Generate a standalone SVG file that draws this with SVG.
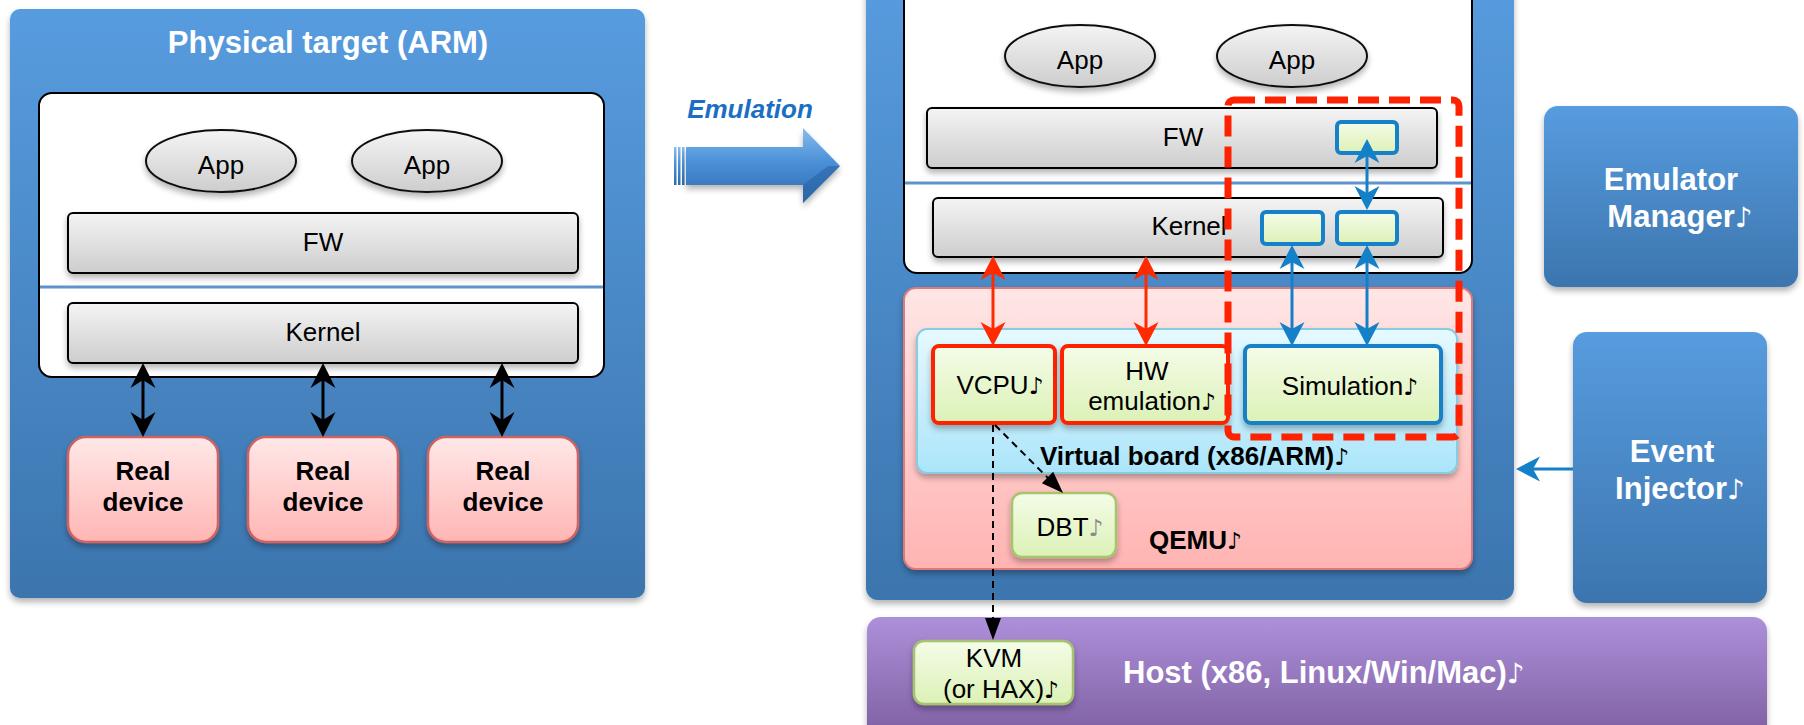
<svg xmlns="http://www.w3.org/2000/svg" width="1804" height="725" viewBox="0 0 1804 725">
<style>
text{font-family:"Liberation Sans",Arial,sans-serif;}
.n{font-family:"DejaVu Sans",sans-serif;font-size:0.9em;}
.t{font-size:26px;fill:#000;text-anchor:middle;}
.tb{font-size:26px;font-weight:bold;fill:#000;}
.tw{font-size:31px;font-weight:bold;fill:#fff;text-anchor:middle;}
.blue{fill:url(#gBlue);}
.white{fill:#fff;stroke:#000;stroke-width:2;}
.bar{fill:url(#gGray);stroke:#000;stroke-width:2;}
.app{fill:url(#gGray);stroke:#111;stroke-width:2;}
.sep{stroke:#5F93CC;stroke-width:3;}
.dev{fill:url(#gPink);stroke:#D0625F;stroke-width:2.5;}
.grn{fill:url(#gGreen);}
.rb{stroke:#FF2200;stroke-width:4;}
.bb{stroke:#1680C8;stroke-width:4;}
.gb{stroke:#A6C46E;stroke-width:2.5;}
.ab{stroke:#000;stroke-width:3;fill:none;}
.ar{stroke:#FF2A00;stroke-width:3;fill:none;}
.au{stroke:#1480C8;stroke-width:3;fill:none;}
.ad{stroke:#000;stroke-width:2;fill:none;stroke-dasharray:7 5;}
</style>
<defs>
<linearGradient id="gBlue" x1="0" y1="0" x2="0" y2="1"><stop offset="0" stop-color="#579CDF"/><stop offset="1" stop-color="#3C75AE"/></linearGradient>
<linearGradient id="gGray" x1="0" y1="0" x2="0" y2="1"><stop offset="0" stop-color="#F4F4F4"/><stop offset="1" stop-color="#CDCDCD"/></linearGradient>
<linearGradient id="gPink" x1="0" y1="0" x2="0" y2="1"><stop offset="0" stop-color="#FFE8E8"/><stop offset="1" stop-color="#FFB6B4"/></linearGradient>
<linearGradient id="gQemu" x1="0" y1="0" x2="0" y2="1"><stop offset="0" stop-color="#FFE6E6"/><stop offset="1" stop-color="#FFB4B2"/></linearGradient>
<linearGradient id="gVb" x1="0" y1="0" x2="0" y2="1"><stop offset="0" stop-color="#E6F9FF"/><stop offset="1" stop-color="#ABE5FA"/></linearGradient>
<linearGradient id="gGreen" x1="0" y1="0" x2="0" y2="1"><stop offset="0" stop-color="#F4FCE8"/><stop offset="1" stop-color="#DCF1B6"/></linearGradient>
<linearGradient id="gHost" x1="0" y1="0" x2="0" y2="1"><stop offset="0" stop-color="#AD90DA"/><stop offset="1" stop-color="#7A5B9D"/></linearGradient>
<linearGradient id="gArrow" x1="0" y1="0" x2="0" y2="1"><stop offset="0" stop-color="#86BDEE"/><stop offset="0.45" stop-color="#4B90D8"/><stop offset="1" stop-color="#2C6BB0"/></linearGradient>
<filter id="sh" x="-10%" y="-10%" width="120%" height="130%"><feGaussianBlur in="SourceAlpha" stdDeviation="3"/><feOffset dy="4" result="o"/><feComponentTransfer><feFuncA type="linear" slope="0.3"/></feComponentTransfer><feMerge><feMergeNode/><feMergeNode in="SourceGraphic"/></feMerge></filter>
<marker id="mB" viewBox="-16 -13 27 26" refX="0" refY="0" markerWidth="27" markerHeight="26" markerUnits="userSpaceOnUse" orient="auto-start-reverse"><path d="M10,0 L-15,-12.5 L-7,0 L-15,12.5 Z" fill="#000"/></marker>
<marker id="mR" viewBox="-16 -13 27 26" refX="0" refY="0" markerWidth="27" markerHeight="26" markerUnits="userSpaceOnUse" orient="auto-start-reverse"><path d="M10,0 L-14,-12.5 L-7,0 L-14,12.5 Z" fill="#FF2A00"/></marker>
<marker id="mU" viewBox="-16 -13 27 26" refX="0" refY="0" markerWidth="27" markerHeight="26" markerUnits="userSpaceOnUse" orient="auto-start-reverse"><path d="M10,0 L-14,-12.5 L-7,0 L-14,12.5 Z" fill="#1480C8"/></marker>
<marker id="mD" viewBox="-13 -9 24 18" refX="0" refY="0" markerWidth="24" markerHeight="18" markerUnits="userSpaceOnUse" orient="auto"><path d="M10,0 L-12,-8 L-12,8 Z" fill="#000"/></marker>
</defs>

<!-- Physical target -->
<g id="physical-target">
<rect x="10" y="9" width="635" height="589" rx="10" class="blue" filter="url(#sh)"/>
<text x="328" y="53" class="tw">Physical target (ARM)</text>
<rect x="39" y="93" width="565" height="284" rx="13" class="white"/>
<line x1="40" y1="287" x2="603" y2="287" class="sep"/>
</g>
<g id="p-app1"><ellipse cx="221" cy="161" rx="75" ry="31" class="app" filter="url(#sh)"/><text x="221" y="174" class="t">App</text></g>
<g id="p-app2"><ellipse cx="427" cy="161" rx="75" ry="31" class="app" filter="url(#sh)"/><text x="427" y="174" class="t">App</text></g>
<g id="p-fw"><rect x="68" y="213" width="510" height="60" rx="5" class="bar" filter="url(#sh)"/><text x="323" y="251" class="t">FW</text></g>
<g id="p-kernel"><rect x="68" y="303" width="510" height="60" rx="5" class="bar" filter="url(#sh)"/><text x="323" y="341" class="t">Kernel</text></g>
<g id="p-dev1"><rect x="68" y="437" width="150" height="105" rx="18" class="dev" filter="url(#sh)"/><text x="143" y="480" class="tb" text-anchor="middle">Real</text><text x="143" y="511" class="tb" text-anchor="middle">device</text></g>
<g id="p-dev2"><rect x="248" y="437" width="150" height="105" rx="18" class="dev" filter="url(#sh)"/><text x="323" y="480" class="tb" text-anchor="middle">Real</text><text x="323" y="511" class="tb" text-anchor="middle">device</text></g>
<g id="p-dev3"><rect x="428" y="437" width="150" height="105" rx="18" class="dev" filter="url(#sh)"/><text x="503" y="480" class="tb" text-anchor="middle">Real</text><text x="503" y="511" class="tb" text-anchor="middle">device</text></g>

<!-- Emulation arrow -->
<g id="emulation">
<text x="750" y="118" font-size="26" font-weight="bold" font-style="italic" fill="#1A6FC4" text-anchor="middle">Emulation</text>
<rect x="674" y="147" width="2.5" height="38" fill="url(#gArrow)"/>
<rect x="678" y="147" width="2.5" height="38" fill="url(#gArrow)"/>
<rect x="682" y="147" width="2.5" height="38" fill="url(#gArrow)"/>
<path d="M686,147 L803,147 L803,128 L840,166 L803,203 L803,185 L686,185 Z" fill="url(#gArrow)" filter="url(#sh)"/>
<path d="M803,185 L803,203 L840,166 L828,166 Z" fill="#2A64A4" opacity="0.6"/>
</g>

<!-- Emulated target -->
<g id="emulated-target">
<rect x="866" y="-20" width="648" height="620" rx="12" class="blue" filter="url(#sh)"/>
<rect x="904" y="-15" width="568" height="288" rx="13" class="white"/>
<line x1="905" y1="183" x2="1471" y2="183" class="sep"/>
</g>
<g id="e-app1"><ellipse cx="1080" cy="56" rx="75" ry="31" class="app" filter="url(#sh)"/><text x="1080" y="69" class="t">App</text></g>
<g id="e-app2"><ellipse cx="1292" cy="56" rx="75" ry="31" class="app" filter="url(#sh)"/><text x="1292" y="69" class="t">App</text></g>
<g id="e-fw"><rect x="927" y="108" width="510" height="60" rx="5" class="bar" filter="url(#sh)"/><text x="1183" y="146" class="t">FW</text></g>
<g id="e-kernel"><rect x="933" y="198" width="510" height="59" rx="5" class="bar" filter="url(#sh)"/><text x="1189" y="235" class="t">Kernel</text></g>
<g id="fw-hook"><rect x="1337" y="122" width="60" height="31" rx="4" class="grn bb"/></g>
<g id="kernel-hook1"><rect x="1262" y="212" width="61" height="32" rx="4" class="grn bb"/></g>
<g id="kernel-hook2"><rect x="1337" y="212" width="60" height="32" rx="4" class="grn bb"/></g>
<g id="qemu"><rect x="904" y="288" width="568" height="281" rx="12" fill="url(#gQemu)" stroke="#E07A78" stroke-width="2" filter="url(#sh)"/><text x="1149" y="549" class="tb">QEMU<tspan class="n">♪</tspan></text></g>
<g id="virtual-board"><rect x="917" y="329" width="540" height="144" rx="10" fill="url(#gVb)" stroke="#86CDE2" stroke-width="2" filter="url(#sh)"/><text x="1040" y="465" class="tb">Virtual board (x86/ARM)<tspan class="n">♪</tspan></text></g>
<g id="vcpu"><rect x="933" y="346" width="122" height="77" rx="6" class="grn rb" filter="url(#sh)"/><text x="1000" y="394" class="t">VCPU<tspan class="n">♪</tspan></text></g>
<g id="hw-emulation"><rect x="1062" y="346" width="166" height="77" rx="6" class="grn rb" filter="url(#sh)"/><text x="1147" y="380" class="t">HW</text><text x="1152" y="410" class="t">emulation<tspan class="n">♪</tspan></text></g>
<g id="simulation"><rect x="1245" y="346" width="196" height="77" rx="6" class="grn bb" filter="url(#sh)"/><text x="1350" y="395" class="t">Simulation<tspan class="n">♪</tspan></text></g>
<g id="dbt"><rect x="1012" y="493" width="104" height="64" rx="10" class="grn gb" filter="url(#sh)"/><text x="1070" y="536" class="t">DBT<tspan class="n" fill="#8A8A8A">♪</tspan></text></g>

<!-- Host -->
<g id="host"><rect x="867" y="617" width="900" height="130" rx="14" fill="url(#gHost)" filter="url(#sh)"/><text x="1123" y="683" font-size="31" font-weight="bold" fill="#fff">Host (x86, Linux/Win/Mac)<tspan class="n">♪</tspan></text></g>
<g id="kvm"><rect x="914" y="641" width="159" height="63" rx="10" class="grn gb" filter="url(#sh)"/><text x="994" y="667" class="t">KVM</text><text x="1001" y="698" class="t">(or HAX)<tspan class="n">♪</tspan></text></g>

<!-- Right side -->
<g id="emulator-manager"><rect x="1544" y="106" width="254" height="181" rx="14" class="blue" filter="url(#sh)"/><text x="1671" y="190" class="tw">Emulator</text><text x="1680" y="227" class="tw">Manager<tspan class="n">♪</tspan></text></g>
<g id="event-injector"><rect x="1573" y="332" width="194" height="271" rx="14" class="blue" filter="url(#sh)"/><text x="1672" y="462" class="tw">Event</text><text x="1680" y="499" class="tw">Injector<tspan class="n">♪</tspan></text></g>

<!-- Connectors -->
<g id="connectors">
<line x1="143" y1="373" x2="143" y2="427" class="ab" marker-start="url(#mB)" marker-end="url(#mB)"/>
<line x1="323" y1="373" x2="323" y2="427" class="ab" marker-start="url(#mB)" marker-end="url(#mB)"/>
<line x1="502" y1="373" x2="502" y2="427" class="ab" marker-start="url(#mB)" marker-end="url(#mB)"/>
<line x1="993" y1="266" x2="993" y2="336" class="ar" marker-start="url(#mR)" marker-end="url(#mR)"/>
<line x1="1146" y1="266" x2="1146" y2="336" class="ar" marker-start="url(#mR)" marker-end="url(#mR)"/>
<line x1="1367" y1="149" x2="1367" y2="200" class="au" marker-start="url(#mU)" marker-end="url(#mU)"/>
<line x1="1292" y1="255" x2="1292" y2="336" class="au" marker-start="url(#mU)" marker-end="url(#mU)"/>
<line x1="1367" y1="255" x2="1367" y2="336" class="au" marker-start="url(#mU)" marker-end="url(#mU)"/>
<line x1="1573" y1="469" x2="1526" y2="469" class="au" marker-end="url(#mU)"/>
<line x1="993" y1="425" x2="993" y2="630" class="ad" marker-end="url(#mD)"/>
<line x1="995" y1="425" x2="1056" y2="486" class="ad" marker-end="url(#mD)"/>
</g>

<!-- Highlight -->
<g id="highlight"><rect x="1228" y="100" width="231" height="337" rx="6" fill="none" stroke="#FF2200" stroke-width="7" stroke-dasharray="21 10"/></g>
</svg>
